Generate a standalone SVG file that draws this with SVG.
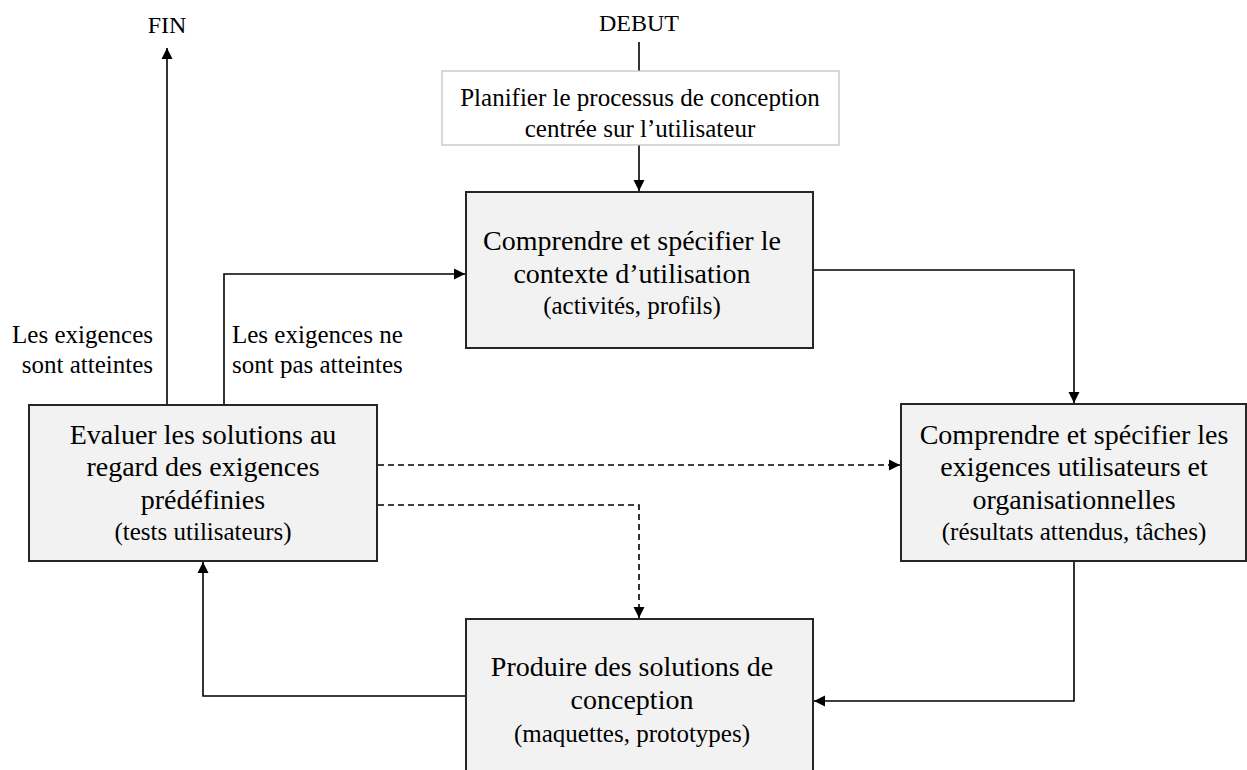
<svg xmlns="http://www.w3.org/2000/svg" width="1247" height="770" viewBox="0 0 1247 770">
<style>
text{font-family:"Liberation Serif","Times New Roman",serif;fill:#000;}
.m{font-size:28px;text-anchor:middle;}
.s{font-size:25px;text-anchor:middle;}
.lbl{font-size:25px;}
.box{fill:#f2f2f2;stroke:#262626;stroke-width:2;}
.plan{fill:#fff;stroke:#bfbfbf;stroke-width:1.2;}
.c{fill:none;stroke:#000;stroke-width:1.6;}
.d{fill:none;stroke:#000;stroke-width:1.6;stroke-dasharray:6 4;}
</style>
<defs>
<marker id="ah" viewBox="0 0 10 10" refX="10" refY="5" markerWidth="7" markerHeight="7" orient="auto" markerUnits="strokeWidth">
<path d="M0,0 L10,5 L0,10 z" fill="#000"/>
</marker>
</defs>
<rect width="1247" height="770" fill="#fff"/>

<g id="connectors">
<line class="c" x1="639" y1="42" x2="639" y2="71"/>
<line class="c" x1="639" y1="145" x2="639" y2="191" marker-end="url(#ah)"/>
<polyline class="c" points="813,270 1074,270 1074,403" marker-end="url(#ah)"/>
<polyline class="c" points="1074,561 1074,701 814,701" marker-end="url(#ah)"/>
<polyline class="c" points="466,696 203,696 203,562" marker-end="url(#ah)"/>
<polyline class="c" points="224,405 224,274 465,274" marker-end="url(#ah)"/>
<line class="c" x1="167" y1="405" x2="167" y2="48" marker-end="url(#ah)"/>
<line class="d" x1="378" y1="465" x2="900" y2="465" marker-end="url(#ah)"/>
<polyline class="d" points="378,505 639,505 639,618" marker-end="url(#ah)"/>
</g>

<g id="debut"><text x="639" y="31" class="s" style="font-size:24px">DEBUT</text></g>
<g id="fin"><text x="167" y="33" class="s" style="font-size:24px">FIN</text></g>

<g id="plan">
<rect class="plan" x="442" y="71" width="397" height="74"/>
<text class="s" x="640" y="106">Planifier le processus de conception</text>
<text class="s" x="640" y="137">centrée sur l’utilisateur</text>
</g>

<g id="contexte">
<rect class="box" x="466" y="192" width="347" height="156"/>
<text class="m" x="632" y="250">Comprendre et spécifier le</text>
<text class="m" x="632" y="283">contexte d’utilisation</text>
<text class="s" x="632" y="314">(activités, profils)</text>
</g>

<g id="exigences">
<rect class="box" x="901" y="404" width="345" height="157"/>
<text class="m" x="1074" y="444">Comprendre et spécifier les</text>
<text class="m" x="1074" y="476">exigences utilisateurs et</text>
<text class="m" x="1074" y="509">organisationnelles</text>
<text class="s" x="1074" y="540">(résultats attendus, tâches)</text>
</g>

<g id="produire">
<rect class="box" x="466" y="619" width="347" height="170"/>
<text class="m" x="632" y="676">Produire des solutions de</text>
<text class="m" x="632" y="709">conception</text>
<text class="s" x="632" y="742">(maquettes, prototypes)</text>
</g>

<g id="evaluer">
<rect class="box" x="29" y="405" width="348" height="156"/>
<text class="m" x="203" y="444">Evaluer les solutions au</text>
<text class="m" x="203" y="476">regard des exigences</text>
<text class="m" x="203" y="509">prédéfinies</text>
<text class="s" x="203" y="540">(tests utilisateurs)</text>
</g>

<g id="labels">
<text class="lbl" x="153" y="343" text-anchor="end">Les exigences</text>
<text class="lbl" x="153" y="373" text-anchor="end">sont atteintes</text>
<text class="lbl" x="232" y="343">Les exigences ne</text>
<text class="lbl" x="232" y="373">sont pas atteintes</text>
</g>
</svg>
